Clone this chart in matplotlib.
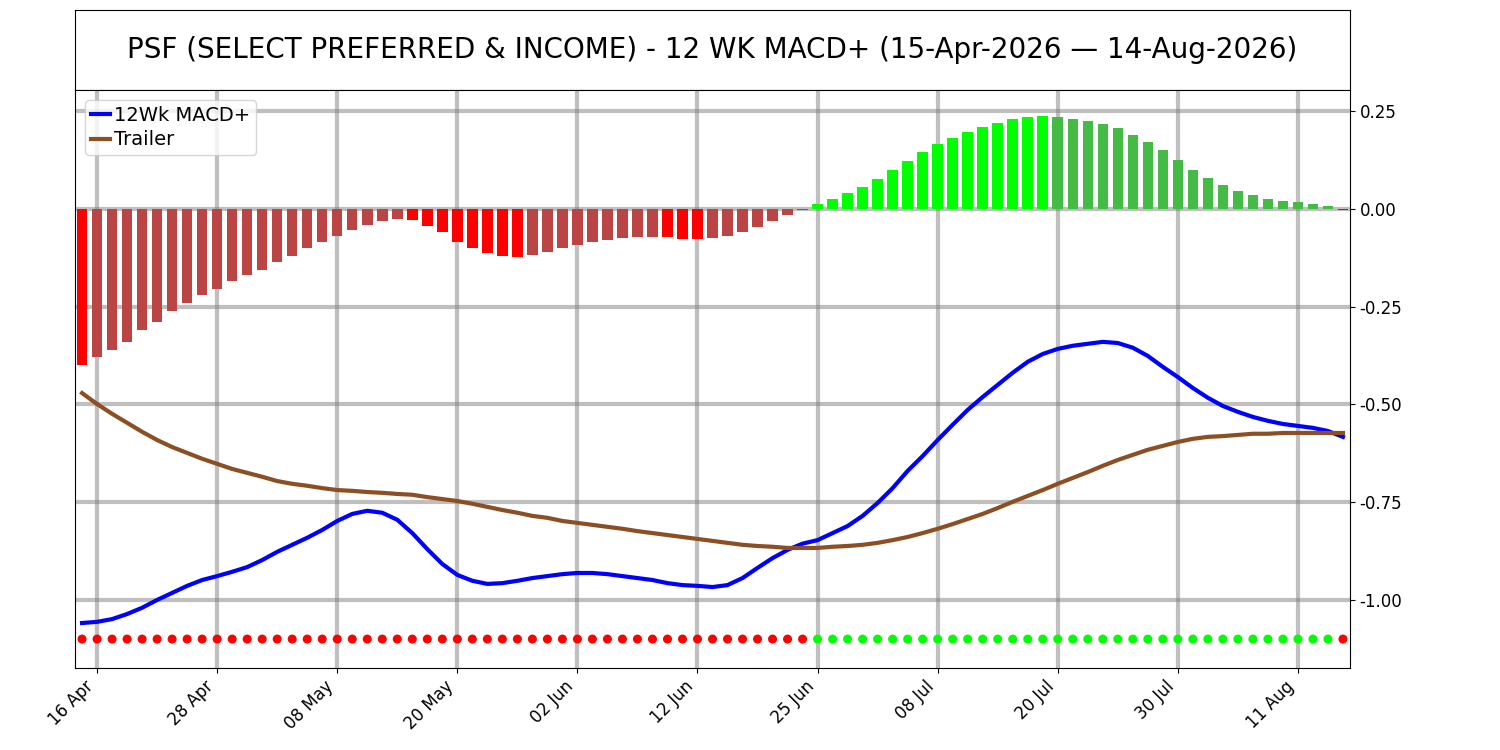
import matplotlib
matplotlib.use("Agg")
import matplotlib.pyplot as plt
import numpy as np

tick_idx = [1, 9, 17, 25, 33, 41, 49, 57, 65, 73, 81]
tick_labels = ["16 Apr", "28 Apr", "08 May", "20 May", "02 Jun", "12 Jun",
               "25 Jun", "08 Jul", "20 Jul", "30 Jul", "11 Aug"]

hist = [-0.40, -0.38, -0.36, -0.34, -0.31, -0.29, -0.26, -0.24, -0.22, -0.205,
        -0.185, -0.17, -0.155, -0.135, -0.12, -0.10, -0.085, -0.07, -0.055, -0.04,
        -0.03, -0.025, -0.028, -0.043, -0.06, -0.085, -0.10, -0.113, -0.12, -0.123,
        -0.118, -0.11, -0.10, -0.093, -0.085, -0.08, -0.075, -0.072, -0.071, -0.073,
        -0.076, -0.077, -0.075, -0.07, -0.06, -0.046, -0.03, -0.015, -0.003, 0.012,
        0.025, 0.04, 0.057, 0.077, 0.10, 0.122, 0.145, 0.165, 0.18, 0.197,
        0.21, 0.22, 0.23, 0.235, 0.238, 0.235, 0.23, 0.225, 0.216, 0.206,
        0.19, 0.172, 0.15, 0.125, 0.10, 0.08, 0.062, 0.045, 0.035, 0.025,
        0.02, 0.017, 0.013, 0.008, -0.003]

macd = [-1.059, -1.056, -1.049, -1.036, -1.020, -1.000, -0.982, -0.964, -0.949, -0.939,
        -0.928, -0.916, -0.898, -0.877, -0.859, -0.841, -0.821, -0.798, -0.780, -0.772,
        -0.777, -0.795, -0.829, -0.870, -0.908, -0.936, -0.951, -0.959, -0.957, -0.951,
        -0.944, -0.939, -0.934, -0.931, -0.931, -0.934, -0.939, -0.944, -0.949, -0.957,
        -0.962, -0.964, -0.967, -0.962, -0.944, -0.918, -0.893, -0.872, -0.856, -0.847,
        -0.829, -0.811, -0.785, -0.752, -0.714, -0.670, -0.632, -0.591, -0.552, -0.514,
        -0.481, -0.450, -0.419, -0.391, -0.371, -0.358, -0.350, -0.345, -0.340, -0.343,
        -0.355, -0.376, -0.404, -0.430, -0.458, -0.483, -0.504, -0.519, -0.532, -0.542,
        -0.550, -0.555, -0.560, -0.568, -0.583]

trailer = [-0.471, -0.499, -0.524, -0.547, -0.570, -0.591, -0.609, -0.624, -0.639, -0.652,
           -0.665, -0.675, -0.685, -0.696, -0.703, -0.708, -0.714, -0.719, -0.721, -0.724,
           -0.726, -0.729, -0.731, -0.737, -0.742, -0.747, -0.754, -0.762, -0.770, -0.777,
           -0.785, -0.790, -0.798, -0.803, -0.808, -0.813, -0.818, -0.824, -0.829, -0.834,
           -0.839, -0.844, -0.849, -0.854, -0.859, -0.862, -0.864, -0.867, -0.867, -0.867,
           -0.864, -0.862, -0.859, -0.854, -0.847, -0.839, -0.829, -0.818, -0.806, -0.793,
           -0.780, -0.765, -0.749, -0.734, -0.719, -0.703, -0.688, -0.673, -0.657, -0.642,
           -0.629, -0.616, -0.606, -0.596, -0.588, -0.583, -0.581, -0.578, -0.575, -0.575,
           -0.573, -0.573, -0.573, -0.573, -0.573]

n = len(hist)
x = np.arange(n)

colors = []
for i, v in enumerate(hist):
    prev = hist[i - 1] if i > 0 else None
    if v >= 0:
        colors.append("#00ff00" if prev is None or v >= prev else "#44bb44")
    else:
        colors.append("#ff0000" if prev is None or v <= prev else "#bb4444")
dot_colors = ["#00ff00" if v >= 0 else "#ff0000" for v in hist]

fig = plt.figure(figsize=(15, 7.5), dpi=100)
L, R = 75 / 1500, 1350 / 1500
tax = fig.add_axes([L, 1 - 90 / 750, R - L, 80 / 750])
tax.set_xticks([]); tax.set_yticks([])
tax.text(0.5, 0.5, "PSF (SELECT PREFERRED & INCOME) - 12 WK MACD+ (15-Apr-2026 \u2014 14-Aug-2026)",
         ha="center", va="center", fontsize=20, transform=tax.transAxes)

ax = fig.add_axes([L, 1 - 668 / 750, R - L, 578 / 750])
for t in tick_idx:
    ax.axvline(t, color="gray", alpha=0.5, lw=3, zorder=0)
for yv in [0.25, 0, -0.25, -0.5, -0.75, -1.0]:
    ax.axhline(yv, color="gray", alpha=0.5, lw=3, zorder=0)

ax.bar(x, hist, width=0.7, color=colors, zorder=2)
ax.plot(x, macd, color="blue", lw=3, label="12Wk MACD+", zorder=3)
ax.plot(x, trailer, color="#8b4f23", lw=3, label="Trailer", zorder=3)
ax.scatter(x, [-1.1] * n, c=dot_colors, s=30, zorder=3)

ax.set_xlim(-0.47, 84.47)
ax.set_ylim(-1.174, 0.304)
ax.yaxis.tick_right()
ax.set_yticks([0.25, 0, -0.25, -0.5, -0.75, -1.0])
ax.set_yticklabels(["0.25", "0.00", "-0.25", "-0.50", "-0.75", "-1.00"], fontsize=12)
ax.set_xticks(tick_idx)
ax.set_xticklabels(tick_labels, rotation=45, ha="right", fontsize=12)
ax.legend(loc="upper left", fontsize=14, handlelength=1, handletextpad=0.2,
          borderpad=0.3, labelspacing=0.3)

fig.savefig("out.png", dpi=100)
